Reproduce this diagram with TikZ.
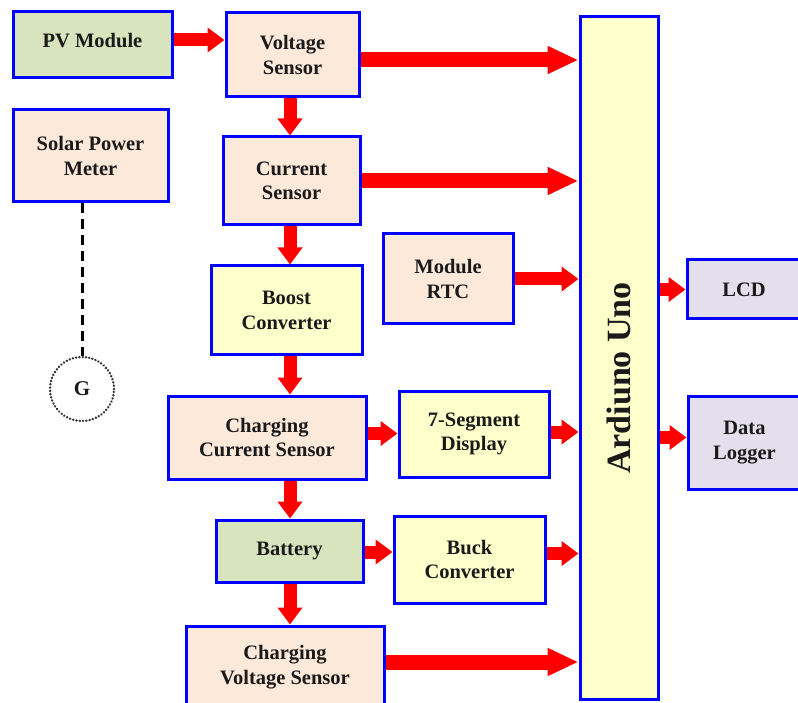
\documentclass[tikz,border=0pt]{standalone}
\usepackage{fontspec}
\setmainfont{Liberation Serif}
\usetikzlibrary{arrows.meta,calc}
\definecolor{boxgreen}{HTML}{D7E4BD}
\definecolor{boxpeach}{HTML}{FDE9D9}
\definecolor{boxyellow}{HTML}{FFFFCC}
\definecolor{boxlav}{HTML}{E4DFEC}
\definecolor{bordblue}{HTML}{0000FF}
\definecolor{arrred}{HTML}{FF0000}
\definecolor{txt}{HTML}{1A1A1A}
\tikzset{
  blk/.style={draw=bordblue, line width=3pt, align=center, inner sep=0pt,
    text=txt, font=\bfseries\fontsize{20.5}{24.5}\selectfont},
  bigarr/.style={draw=arrred, line width=15pt, -{Triangle[length=31pt,width=26pt]}},
  smallarr/.style={draw=arrred, line width=13pt, -{Triangle[length=17pt,width=24pt]}},
  meterlink/.style={draw=black, line width=3pt, dash pattern=on 10pt off 6pt},
  gen/.style={circle, draw=black!80, line width=2.6pt, dash pattern=on 0.1pt off 3.2pt,
    line cap=round, minimum size=64pt, inner sep=0pt, text=txt,
    font=\bfseries\fontsize{21}{24}\selectfont},
}
\begin{document}
\begin{tikzpicture}[x=1pt,y=-1pt]
\useasboundingbox (0,0) rectangle (798,703);
\clip (0,0) rectangle (798,703);
% blocks
\node[blk, fill=boxgreen, minimum width=159pt, minimum height=66pt] (pv) at (92.5,45) {\raisebox{10pt}{PV Module}};
\node[blk, fill=boxpeach, minimum width=133pt, minimum height=84pt] (vs) at (292.5,55) {Voltage\\Sensor};
\node[blk, fill=boxpeach, minimum width=155pt, minimum height=92pt] (spm) at (90.5,156) {Solar Power\\Meter};
\node[blk, fill=boxpeach, minimum width=137pt, minimum height=88pt] (cs) at (291.5,181) {Current\\Sensor};
\node[blk, fill=boxyellow, minimum width=151pt, minimum height=89pt] (boost) at (286.5,310.5) {Boost\\Converter};
\node[blk, fill=boxpeach, minimum width=130pt, minimum height=90pt] (rtc) at (448,279) {Module\\RTC};
\node[draw=bordblue, line width=3pt, fill=boxyellow, inner sep=0pt, text=txt,
      font=\bfseries\fontsize{34}{38}\selectfont, rotate=90,
      minimum width=682pt, minimum height=78pt] (ard) at (619,358) {Ardiuno Uno\hspace*{40pt}};
\node[blk, fill=boxlav, minimum width=114pt, minimum height=59pt] (lcd) at (744,289.5) {LCD};
\node[blk, fill=boxlav, minimum width=113pt, minimum height=93pt] (dl) at (744.5,442.5) {Data\\Logger};
\node[blk, fill=boxpeach, minimum width=198pt, minimum height=83pt] (ccs) at (267,437.5) {Charging\\Current Sensor};
\node[blk, fill=boxyellow, minimum width=150pt, minimum height=86pt] (seg) at (474,434) {7-Segment\\Display};
\node[blk, fill=boxgreen, minimum width=147pt, minimum height=62pt] (bat) at (289.5,551) {Battery};
\node[blk, fill=boxyellow, minimum width=151pt, minimum height=87pt] (buck) at (469.5,559.5) {Buck\\Converter};
\node[blk, fill=boxpeach, minimum width=198pt, minimum height=82pt] (cvs) at (285,667) {Charging\\Voltage Sensor};
\node[gen] (g) at (82,389) {G};
\coordinate (col) at (290,0);
% meter link
\draw[meterlink] (spm.south -| g.north) -- (g.north);
% arrows
\draw[smallarr] ([yshift=5pt]pv.east) -- ([yshift=5pt]pv.east -| vs.west);
\draw[bigarr] ([yshift=-5pt]vs.east) -- ([yshift=-5pt]vs.east -| ard.north);
\draw[bigarr] (cs.east) -- (cs.east -| ard.north);
\draw[smallarr] (rtc.east) -- (rtc.east -| ard.north);
\draw[smallarr] (lcd.west -| ard.south) -- (lcd.west);
\draw[smallarr] ([yshift=5pt]dl.west -| ard.south) -- ([yshift=5pt]dl.west);
\draw[smallarr] (vs.south -| col) -- (cs.north -| col);
\draw[smallarr] (cs.south -| col) -- (boost.north -| col);
\draw[smallarr] (boost.south -| col) -- (ccs.north -| col);
\draw[smallarr] (ccs.south -| col) -- (bat.north -| col);
\draw[smallarr] (bat.south -| col) -- (cvs.north -| col);
\draw[smallarr] ([yshift=4pt]ccs.east) -- ([yshift=4pt]ccs.east -| seg.west);
\draw[smallarr] ([yshift=2pt]seg.east) -- ([yshift=2pt]seg.east -| ard.north);
\draw[smallarr] ([yshift=-1pt]bat.east) -- ([yshift=-1pt]bat.east -| buck.west);
\draw[smallarr] ([yshift=6pt]buck.east) -- ([yshift=6pt]buck.east -| ard.north);
\draw[bigarr] ([yshift=5pt]cvs.east) -- ([yshift=5pt]cvs.east -| ard.north);
\end{tikzpicture}
\end{document}
